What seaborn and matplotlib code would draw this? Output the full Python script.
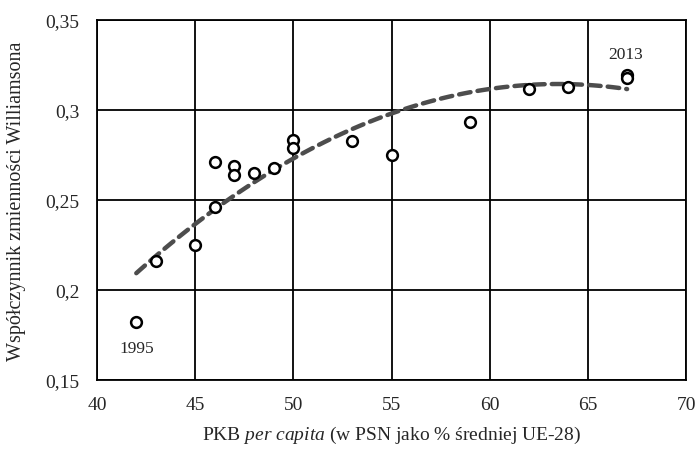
import numpy as np
import pandas as pd
import matplotlib
matplotlib.use("Agg")
import matplotlib.pyplot as plt
import seaborn as sns

# PKB per capita (PSN, % UE-28) vs Williamson coefficient, 1995-2013
gdp = [42, 43, 45, 46, 46, 47, 47, 48, 49, 50, 50, 53, 55, 59, 62, 64, 67, 67]
williamson = [0.182, 0.216, 0.225, 0.246, 0.271, 0.269, 0.264, 0.265, 0.268,
              0.2835, 0.279, 0.2826, 0.275, 0.2935, 0.3117, 0.3126, 0.3195, 0.318]

x_ticks = [40, 45, 50, 55, 60, 65, 70]
y_ticks = [0.15, 0.2, 0.25, 0.3, 0.35]
y_tick_labels = ["0,15", "0,2", "0,25", "0,3", "0,35"]

df = pd.DataFrame({"gdp": gdp, "w": williamson})

sns.set_style("white")
plt.rcParams["font.family"] = ["Liberation Serif", "DejaVu Serif"]
plt.rcParams["mathtext.fontset"] = "custom"
plt.rcParams["mathtext.rm"] = "Liberation Serif"
plt.rcParams["mathtext.it"] = "Liberation Serif:italic"

fig = plt.figure(figsize=(7, 4.52), dpi=100)
ax = fig.add_axes([0.1386, 0.157, 0.8414, 0.7965])

# quadratic trend, as in the original spreadsheet chart
sns.regplot(data=df, x="gdp", y="w", order=2, ci=None, scatter=False, ax=ax,
            line_kws=dict(color="#4d4d4d", lw=3.2, ls=(0, (2.6, 1.6)),
                          dash_capstyle="round", zorder=2))
sns.scatterplot(data=df, x="gdp", y="w", ax=ax, marker="o", s=60,
                facecolor="white", edgecolor="black", linewidth=1.8, zorder=3)

ax.annotate("1995", (gdp[0], williamson[0]), xytext=(0, -13),
            textcoords="offset points", ha="center", va="top", fontsize=12.5)
ax.annotate("2013", (gdp[-2], williamson[-2]), xytext=(-1, 9),
            textcoords="offset points", ha="center", va="bottom", fontsize=12.5)

ax.set_xlim(40, 70)
ax.set_ylim(0.15, 0.35)
ax.set_xticks(x_ticks)
ax.set_yticks(y_ticks)
ax.set_yticklabels(y_tick_labels)
ax.grid(True, color="black", lw=1.3)
ax.set_axisbelow(True)
for s in ax.spines.values():
    s.set_color("black")
    s.set_linewidth(1.3)
ax.tick_params(axis="both", direction="inout", length=7, width=1.3,
               color="black", labelsize=14)
ax.tick_params(axis="x", pad=8)
ax.tick_params(axis="y", pad=9)

ax.set_xlabel("PKB $\\mathit{per\\ capita}$ (w PSN jako % średniej UE-28)",
              fontsize=14, labelpad=8)
ax.set_ylabel("Współczynnik zmienności Williamsona", fontsize=14.5, labelpad=14)

fig.savefig("out.png", dpi=100)
